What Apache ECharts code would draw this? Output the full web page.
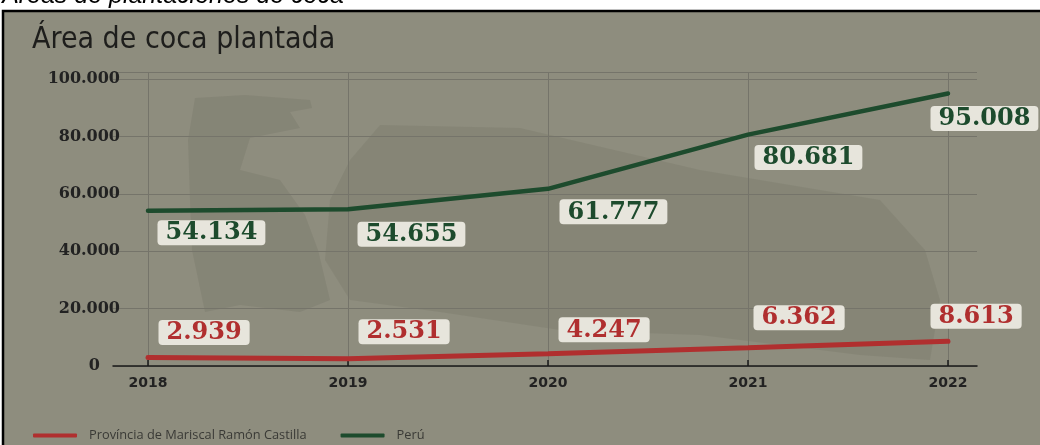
<!DOCTYPE html>
<html>
<head>
<meta charset="utf-8">
<script src="https://cdn.jsdelivr.net/npm/echarts@6/dist/echarts.min.js"></script>
<style>
html,body{margin:0;padding:0;background:#ffffff;}
#c{width:1040px;height:445px;}
</style>
</head>
<body>
<div id="c"></div>
<script>
// ---- data ----
const years = [2018, 2019, 2020, 2021, 2022];
const peru = [54134, 54655, 61777, 80681, 95008];
const castilla = [2939, 2531, 4247, 6362, 8613];
const yTicks = [0, 20000, 40000, 60000, 80000, 100000];
const seriesNames = ['Província de Mariscal Ramón Castilla', 'Perú'];
const chartTitle = 'Área de coca plantada';
const pageHeading = 'Áreas de plantaciones de coca';

// ---- layout (label offsets, in px, relative to the point) ----
const peruLabelOffset = [[10, 10], [10, 13], [12, 11], [7, 11], [-17, 13]];
const castLabelOffset = [[11, -12], [11, -14], [11, -11], [6, -17], [-17, -12]];

const fmt = v => String(v).replace(/\B(?=(\d{3})+(?!\d))/g, '.');

const GREEN = '#1d4b2d';
const RED = '#b02f2f';
const LABEL_BG = '#e7e5dc';

function buildData(vals, offsets, valign) {
  return vals.map((v, i) => ({
    value: [years[i], v],
    label: {
      position: [offsets[i][0], offsets[i][1]],
      verticalAlign: valign
    }
  }));
}

const labelBase = (color) => ({
  show: true,
  formatter: p => fmt(p.value[1]),
  align: 'left',
  fontFamily: 'DejaVu Serif',
  fontWeight: 'bold',
  fontSize: 24,
  lineHeight: 22,
  color: color,
  backgroundColor: LABEL_BG,
  borderRadius: 4,
  padding: [2, 8, 1, 8]
});

const chart = echarts.init(document.getElementById('c'), null, {renderer: 'canvas'});

const option = {
  animation: false,
  backgroundColor: '#ffffff',
  graphic: [
    { type: 'rect', z: -100, shape: {x: 3, y: 11, width: 1100, height: 500},
      style: {fill: '#8e8d7e', stroke: '#000000', lineWidth: 2.5} },
    { type: 'polygon', z: -90, shape: {points: [[195,98],[245,95],[310,100],[312,108],[290,112],[300,128],[250,138],[240,170],[280,180],[305,215],[318,250],[330,300],[300,312],[240,305],[205,312],[192,250],[190,200],[188,140]]},
      style: {fill: 'rgba(105,103,90,0.22)'} },
    { type: 'polygon', z: -90, shape: {points: [[380,125],[520,128],[700,170],[880,200],[925,250],[940,300],[930,360],[860,355],[700,335],[560,330],[440,312],[350,300],[325,260],[330,200],[350,160]]},
      style: {fill: 'rgba(105,103,90,0.20)'} },
    { type: 'text', z: 10, left: 2, top: -16,
      style: {text: pageHeading, fontFamily: 'Liberation Sans', fontStyle: 'italic', fontSize: 25, fill: '#000000'} }
  ],
  title: {
    text: chartTitle,
    left: 32,
    top: 25,
    padding: 0,
    textStyle: {fontFamily: 'DejaVu Sans Condensed', fontWeight: 'normal', fontSize: 30, color: '#1e1e1c'}
  },
  legend: {
    left: 33,
    top: 429,
    padding: 0,
    itemWidth: 44,
    itemHeight: 4,
    itemGap: 34,
    icon: 'roundRect',
    textStyle: {fontFamily: 'Open Sans', fontSize: 12.8, color: '#3a3a36', padding: [0, 0, 0, 7]},
    data: seriesNames
  },
  grid: {left: 113, right: 63, top: 72, bottom: 79, containLabel: false},
  xAxis: {
    type: 'value',
    min: 2017.825,
    max: 2022.145,
    axisLine: {show: true, lineStyle: {color: '#1a1a1a', width: 1.5}},
    axisTick: {show: true, inside: true, length: 6, customValues: years, lineStyle: {color: '#1a1a1a', width: 1.5}},
    axisLabel: {customValues: years, formatter: v => String(v), margin: 10,
      fontFamily: 'DejaVu Sans', fontWeight: 'bold', fontSize: 14, color: '#222222'},
    splitLine: {show: true, lineStyle: {color: '#75746a', width: 1}}
  },
  yAxis: {
    type: 'value',
    min: 0,
    max: 102500,
    interval: 20000,
    axisLine: {show: false},
    axisTick: {show: false},
    axisLabel: {
      customValues: yTicks,
      margin: -7,
      formatter: v => v === 0 ? '{z|0}' : fmt(v),
      fontFamily: 'DejaVu Serif', fontWeight: 'bold', fontSize: 16, color: '#222222',
      rich: {z: {fontFamily: 'DejaVu Serif', fontWeight: 'bold', fontSize: 16, color: '#222222', padding: [0, 20, 0, 0]}}
    },
    splitLine: {show: true, lineStyle: {color: '#75746a', width: 1}}
  },
  series: [
    {
      name: seriesNames[0],
      type: 'line',
      data: buildData(castilla, castLabelOffset, 'bottom'),
      symbol: 'circle',
      symbolSize: 1,
      itemStyle: {color: RED},
      lineStyle: {color: RED, width: 5, cap: 'round'},
      label: labelBase(RED),
      z: 3
    },
    {
      name: seriesNames[1],
      type: 'line',
      data: buildData(peru, peruLabelOffset, 'top'),
      symbol: 'circle',
      symbolSize: 1,
      itemStyle: {color: GREEN},
      lineStyle: {color: GREEN, width: 4.5, cap: 'round'},
      label: labelBase(GREEN),
      z: 4
    }
  ]
};
chart.setOption(option);
</script>
</body>
</html>
